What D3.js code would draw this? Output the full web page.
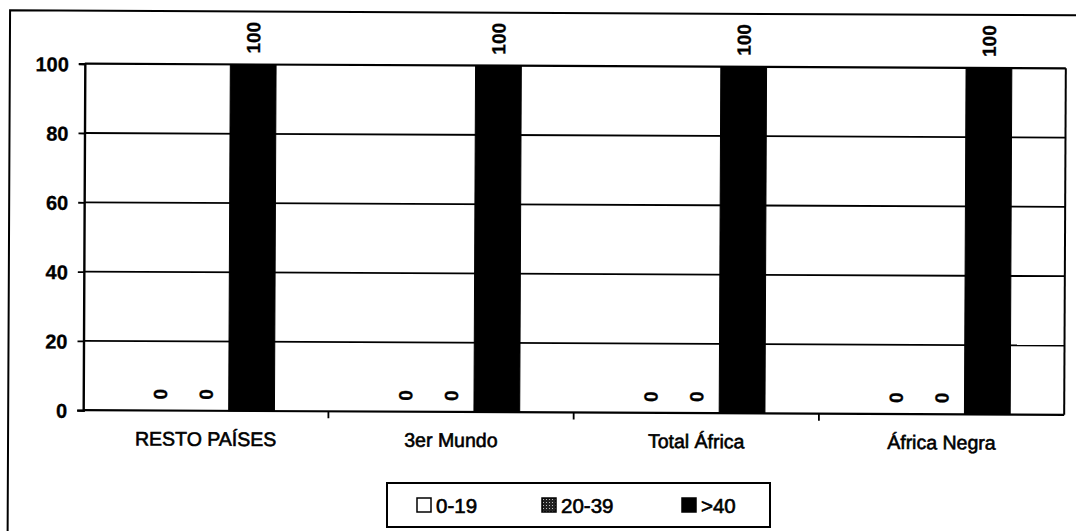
<!DOCTYPE html><html><head><meta charset="UTF-8"><script src="https://d3js.org/d3.v7.min.js"></script><style>
  body { margin: 0; background: #fff; }
  svg { display: block; }
  text { font-family: "Liberation Sans", Arial, sans-serif; fill: #000; stroke: #000; stroke-width: 0.6px; }
</style></head><body><div id="chart"></div><script>
const categories = ['RESTO PAÍSES', '3er Mundo', 'Total África', 'África Negra'];
const seriesNames = ['0-19', '20-39', '>40'];
const s0_19 = [0, 0, 0, 0];
const s20_39 = [0, 0, 0, 0];
const sOver40 = [100, 100, 100, 100];
const yTicks = [0, 20, 40, 60, 80, 100];

const seriesValues = [s0_19, s20_39, sOver40];
const rows = categories.map((c, i) => ({
  cat: c,
  vals: seriesNames.map((s, j) => ({ key: s, value: seriesValues[j][i] }))
}));

const W = 1076, H = 531;
const plot = { left: 84, right: 1065, top: 66, bottom: 412.5 };

const svg = d3.select('#chart').append('svg')
  .attr('width', W).attr('height', H);

const defs = svg.append('defs');
const pat = defs.append('pattern').attr('id', 'grey').attr('patternUnits', 'userSpaceOnUse')
  .attr('width', 3).attr('height', 3);
pat.append('rect').attr('width', 3).attr('height', 3).attr('fill', '#222');
pat.append('rect').attr('x', 1).attr('y', 1).attr('width', 1).attr('height', 1).attr('fill', '#bbb');

const fills = { '0-19': '#fff', '20-39': 'url(#grey)', '>40': '#000' };

// the scanned page is tilted a little
const g = svg.append('g').attr('transform', 'rotate(0.27, 574, 240)');

// outer frame
g.append('path').attr('d', `M9,560 L9,13 L1100,13`)
  .attr('fill', 'none').attr('stroke', '#000').attr('stroke-width', 2);

const x0 = d3.scaleBand().domain(categories).range([plot.left, plot.right]).padding(0);
const x1 = d3.scaleBand().domain(seriesNames).range([0, x0.bandwidth()])
  .paddingInner(0).paddingOuter(1.18);
const y = d3.scaleLinear().domain([0, 100]).range([plot.bottom, plot.top]);

// grid lines
g.append('g').selectAll('line').data(yTicks).join('line')
  .attr('x1', plot.left).attr('x2', plot.right)
  .attr('y1', d => y(d)).attr('y2', d => y(d))
  .attr('stroke', '#000').attr('stroke-width', d => (d === 0 || d === 100) ? 2.2 : 1.8);

// right border
g.append('line').attr('x1', plot.right).attr('x2', plot.right)
  .attr('y1', plot.top).attr('y2', plot.bottom)
  .attr('stroke', '#000').attr('stroke-width', 2);

// y axis
const yAxis = g.append('g').attr('transform', `translate(${plot.left},0)`)
  .call(d3.axisLeft(y).tickValues(yTicks).tickSize(6).tickPadding(10));
yAxis.select('.domain').attr('stroke', '#000').attr('stroke-width', 2.4);
yAxis.selectAll('.tick line').attr('stroke', '#000').attr('stroke-width', 1.8);
yAxis.selectAll('.tick text').attr('font-size', 20).attr('font-weight', 'bold')
  .attr('fill', '#000').attr('dy', '0.36em').style('stroke-width', '0.3px');

// x axis ticks between categories
const bounds = categories.map(c => x0(c)).concat([plot.right]);
g.append('g').selectAll('line').data(bounds.slice(1, -1)).join('line')
  .attr('x1', d => d).attr('x2', d => d)
  .attr('y1', plot.bottom).attr('y2', plot.bottom + 7)
  .attr('stroke', '#000').attr('stroke-width', 1.8);

// category labels
g.append('g').selectAll('text').data(categories).join('text')
  .attr('x', d => x0(d) + x0.bandwidth() / 2)
  .attr('y', plot.bottom + 35)
  .attr('text-anchor', 'middle').attr('font-size', 19.5)
  .text(d => d);

// bars
const grp = g.append('g').selectAll('g').data(rows).join('g')
  .attr('transform', d => `translate(${x0(d.cat)},0)`);

grp.selectAll('rect').data(d => d.vals).join('rect')
  .attr('x', d => x1(d.key))
  .attr('y', d => y(d.value))
  .attr('width', x1.bandwidth())
  .attr('height', d => y(0) - y(d.value))
  .attr('fill', d => fills[d.key])
  .attr('stroke', d => d.value > 0 ? '#000' : 'none');

// value labels, rotated
grp.selectAll('text').data(d => d.vals).join('text')
  .attr('transform', d => `translate(${x1(d.key) + x1.bandwidth() / 2},${y(d.value) - 11}) rotate(-90)`)
  .attr('dy', '0.36em')
  .attr('font-size', 19)
  .attr('font-weight', 'bold')
  .style('stroke-width', '0.3px')
  .text(d => d.value);

// legend
const lg = svg.append('g');
lg.append('rect').attr('x', 387).attr('y', 483).attr('width', 383).attr('height', 44)
  .attr('fill', '#fff').attr('stroke', '#000').attr('stroke-width', 2);
const legendX = [417, 542, 682];
const li = lg.selectAll('g.item').data(seriesNames).join('g').attr('class', 'item')
  .attr('transform', (d, i) => `translate(${legendX[i]},498)`);
li.append('rect').attr('width', 14).attr('height', 14)
  .attr('fill', d => fills[d]).attr('stroke', '#000').attr('stroke-width', 1.5);
li.append('text').attr('x', 19).attr('y', 14.5).attr('font-size', 20.5)
  .text(d => d);
</script></body></html>
